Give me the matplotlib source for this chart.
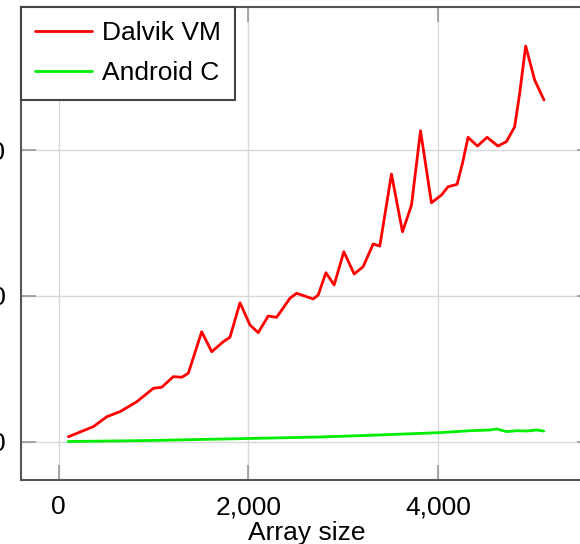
import matplotlib
matplotlib.use("Agg")
import matplotlib.pyplot as plt
from matplotlib.ticker import FuncFormatter

plt.rcParams['font.family'] = ['Liberation Sans', 'DejaVu Sans']

dalvik_x = [103, 366, 507, 647, 823, 998, 1086, 1208, 1297, 1366, 1507, 1613, 1735, 1805,
            1911, 2016, 2103, 2208, 2297, 2437, 2507, 2682, 2735, 2816, 2903, 3005, 3114,
            3208, 3314, 3384, 3507, 3623, 3718, 3813, 3928, 4034, 4103, 4198, 4255, 4314,
            4413, 4514, 4629, 4718, 4805, 4858, 4921, 5016, 5114]
dalvik_y = [3.4, 10.3, 17.1, 20.6, 27.4, 36.6, 37.3, 44.6, 44.2, 46.9, 75.4, 61.7, 68.6, 71.6,
            95.3, 80.0, 74.8, 86.2, 85.3, 98.4, 101.8, 97.9, 100.6, 115.9, 107.5, 130.3, 115.0,
            120.0, 135.6, 134.2, 183.6, 144.0, 162.3, 213.3, 163.9, 169.2, 174.9, 176.5, 190.9, 208.8,
            202.8, 208.8, 202.8, 205.8, 216.0, 239.0, 271.4, 248.1, 234.4]

android_x = [100, 963, 2016, 2753, 3384, 4016, 4332, 4542, 4616, 4721, 4826, 4932, 5037, 5111]
android_y = [0.1, 0.8, 2.2, 3.2, 4.6, 6.2, 7.5, 8.0, 8.7, 6.9, 7.5, 7.3, 8.0, 7.3]

x_ticks = [0, 2000, 4000]
y_ticks = [0, 100, 200]

fig = plt.figure(figsize=(5.8, 5.44), dpi=100)
ax = fig.add_axes([20.7 / 580, (544 - 480) / 544, (592 - 20.7) / 580, (480 - 6.7) / 544])

ax.plot(dalvik_x, dalvik_y, color='#ff0000', lw=2.0, label='Dalvik VM', zorder=3,
        solid_joinstyle='round', solid_capstyle='round')
ax.plot(android_x, android_y, color='#00ee00', lw=2.0, label='Android C', zorder=3,
        solid_joinstyle='round', solid_capstyle='round')

ax.set_xlim(-400, 5620)
ax.set_ylim(-26.3, 298.4)
ax.set_xticks(x_ticks)
ax.set_yticks(y_ticks)
ax.xaxis.set_major_formatter(FuncFormatter(lambda v, p: f"{int(v):,}"))
ax.grid(True, color='#d8d8d8', lw=1.0, zorder=0)
ax.set_axisbelow(True)
ax.tick_params(direction='in', length=11, width=1.2, color='#999999',
               top=True, right=True, labelsize=19)
ax.tick_params(axis='x', pad=11)
ax.tick_params(axis='y', pad=11)
for s in ax.spines.values():
    s.set_color('#555555')
    s.set_linewidth(1.5)
ax.set_xlabel('Array size', fontsize=19, labelpad=1.5)

leg = ax.legend(loc='upper left', borderaxespad=0, fontsize=19, fancybox=False,
                framealpha=1, edgecolor='#444444', handlelength=2.16,
                handletextpad=0.35, labelspacing=0.6, borderpad=0.56)
leg.get_frame().set_linewidth(1.5)

fig.savefig('out.png', dpi=100)
